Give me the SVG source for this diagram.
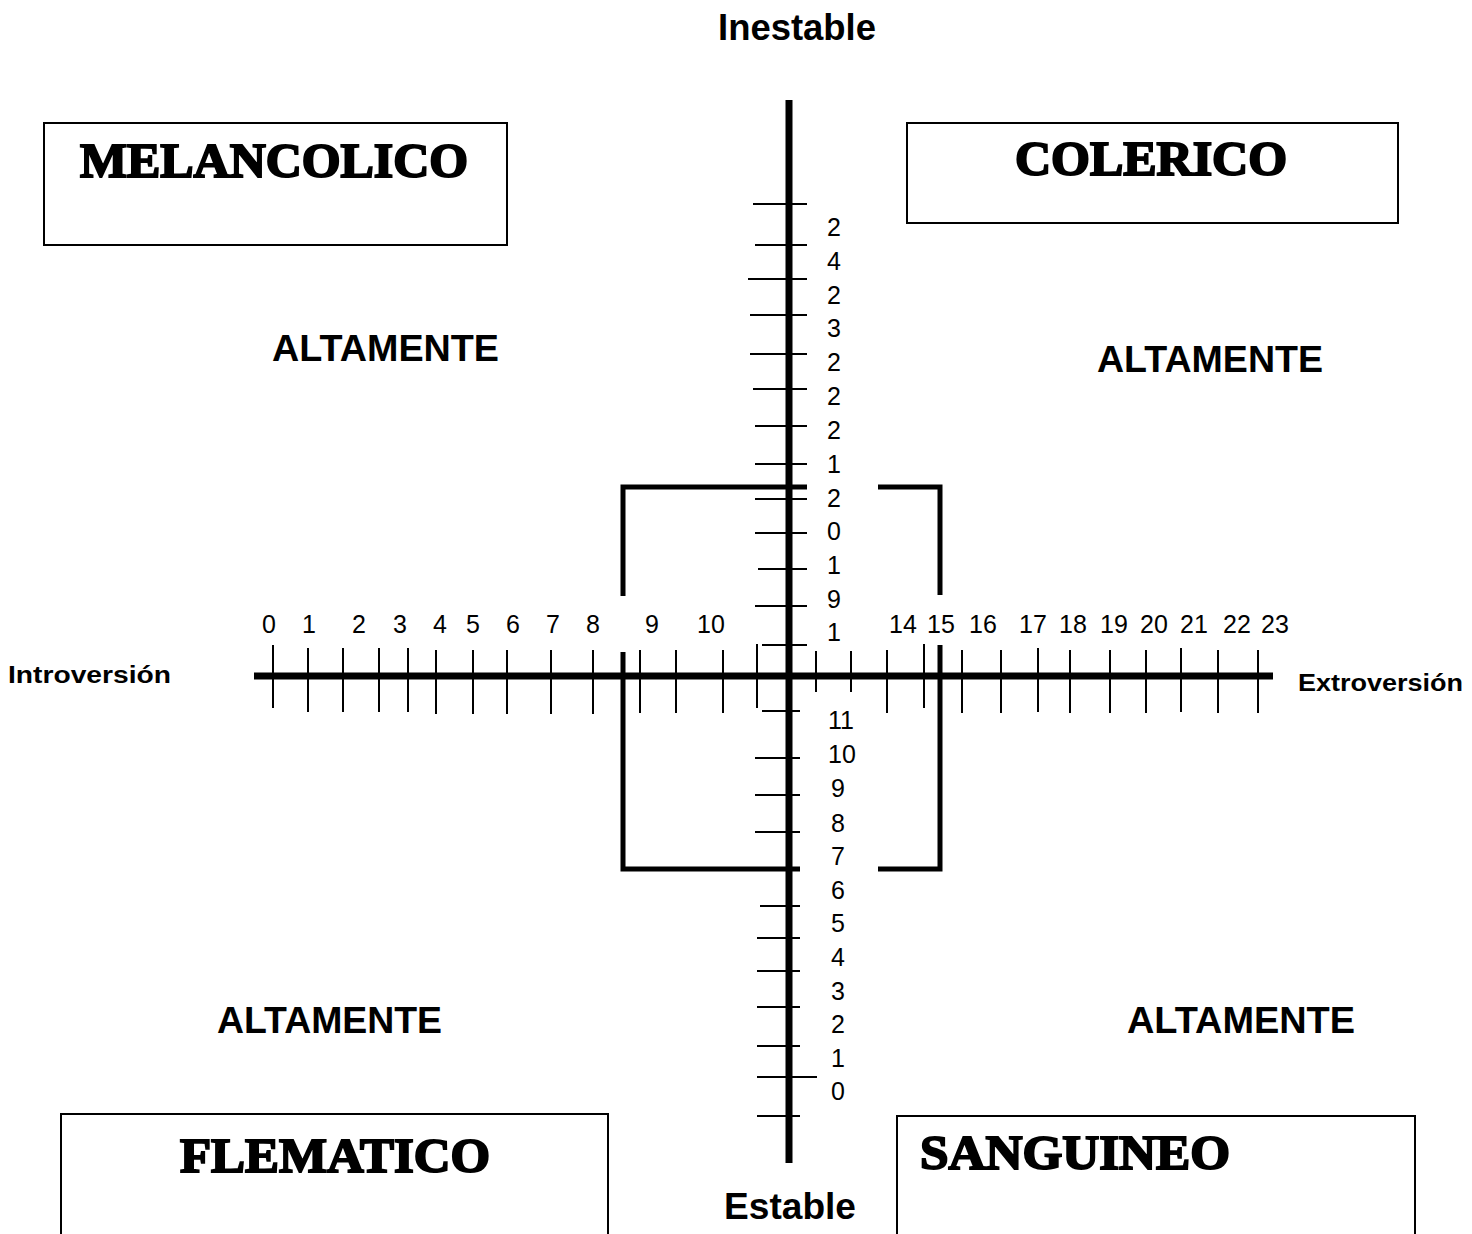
<svg xmlns="http://www.w3.org/2000/svg" width="1472" height="1234" viewBox="0 0 1472 1234">
<style>
.bg{fill:#fff}
.box{fill:#fff;stroke:#000;stroke-width:2}
.title{font-family:"Liberation Serif",serif;font-weight:bold;font-size:48px;fill:#000;stroke:#000;stroke-width:2}
.lbl{font-family:"Liberation Sans",Arial,sans-serif;font-weight:bold;font-size:36px;fill:#000}
.side{font-family:"Liberation Sans",Arial,sans-serif;font-weight:bold;font-size:23px;fill:#000}
.num{font-family:"Liberation Sans",Arial,sans-serif;font-size:25px;fill:#000}
.axis{stroke:#000;stroke-width:7;fill:none}
.tick{stroke:#000;stroke-width:2;fill:none}
.brk{stroke:#000;stroke-width:5;fill:none}
</style>
<rect class="bg" x="0" y="0" width="1472" height="1234"/>

<g id="melancolico">
<rect class="box" x="44" y="123" width="463" height="122"/>
<text class="title" x="80" y="177" textLength="388" lengthAdjust="spacingAndGlyphs">MELANCOLICO</text>
</g>
<g id="colerico">
<rect class="box" x="907" y="123" width="491" height="100"/>
<text class="title" x="1015" y="175" textLength="272" lengthAdjust="spacingAndGlyphs">COLERICO</text>
</g>
<g id="flematico">
<rect class="box" x="61" y="1114" width="547" height="140"/>
<text class="title" x="180" y="1172" textLength="310" lengthAdjust="spacingAndGlyphs">FLEMATICO</text>
</g>
<g id="sanguineo">
<rect class="box" x="897" y="1116" width="518" height="140"/>
<text class="title" x="920" y="1169" textLength="310" lengthAdjust="spacingAndGlyphs">SANGUINEO</text>
</g>

<g id="labels">
<text class="lbl" x="718" y="40" textLength="158" lengthAdjust="spacingAndGlyphs">Inestable</text>
<text class="lbl" x="724" y="1219" textLength="132" lengthAdjust="spacingAndGlyphs">Estable</text>
<text class="lbl" x="272" y="361" textLength="227" lengthAdjust="spacingAndGlyphs">ALTAMENTE</text>
<text class="lbl" x="1097" y="372" textLength="226" lengthAdjust="spacingAndGlyphs">ALTAMENTE</text>
<text class="lbl" x="217" y="1033" textLength="225" lengthAdjust="spacingAndGlyphs">ALTAMENTE</text>
<text class="lbl" x="1127" y="1033" textLength="228" lengthAdjust="spacingAndGlyphs">ALTAMENTE</text>
<text class="side" x="8" y="683" textLength="163" lengthAdjust="spacingAndGlyphs">Introversión</text>
<text class="side" x="1298" y="691" textLength="165" lengthAdjust="spacingAndGlyphs">Extroversión</text>
</g>

<g id="connectors">
<line class="axis" x1="789" y1="100" x2="789" y2="1163"/>
<line class="axis" x1="254" y1="676" x2="1273" y2="676"/>
<g id="vticks">
<line class="tick" x1="753" y1="204" x2="807" y2="204"/>
<line class="tick" x1="755" y1="245" x2="807" y2="245"/>
<line class="tick" x1="748" y1="279" x2="807" y2="279"/>
<line class="tick" x1="750" y1="315" x2="807" y2="315"/>
<line class="tick" x1="750" y1="354" x2="807" y2="354"/>
<line class="tick" x1="753" y1="389" x2="807" y2="389"/>
<line class="tick" x1="755" y1="426" x2="807" y2="426"/>
<line class="tick" x1="755" y1="464" x2="807" y2="464"/>
<line class="tick" x1="755" y1="499" x2="807" y2="499"/>
<line class="tick" x1="755" y1="533" x2="807" y2="533"/>
<line class="tick" x1="758" y1="569" x2="807" y2="569"/>
<line class="tick" x1="755" y1="606" x2="807" y2="606"/>
<line class="tick" x1="762" y1="645" x2="807" y2="645"/>
<line class="tick" x1="762" y1="711" x2="800" y2="711"/>
<line class="tick" x1="755" y1="758" x2="800" y2="758"/>
<line class="tick" x1="755" y1="795" x2="800" y2="795"/>
<line class="tick" x1="755" y1="832" x2="800" y2="832"/>
<line class="tick" x1="760" y1="906" x2="800" y2="906"/>
<line class="tick" x1="757" y1="938" x2="800" y2="938"/>
<line class="tick" x1="757" y1="971" x2="800" y2="971"/>
<line class="tick" x1="757" y1="1007" x2="800" y2="1007"/>
<line class="tick" x1="757" y1="1046" x2="800" y2="1046"/>
<line class="tick" x1="757" y1="1077" x2="817" y2="1077"/>
<line class="tick" x1="757" y1="1116" x2="800" y2="1116"/>
</g>
<g id="hticks">
<line class="tick" x1="273" y1="645" x2="273" y2="708"/>
<line class="tick" x1="308" y1="648" x2="308" y2="712"/>
<line class="tick" x1="343" y1="648" x2="343" y2="712"/>
<line class="tick" x1="379" y1="648" x2="379" y2="712"/>
<line class="tick" x1="408" y1="648" x2="408" y2="712"/>
<line class="tick" x1="436" y1="650" x2="436" y2="714"/>
<line class="tick" x1="473" y1="650" x2="473" y2="714"/>
<line class="tick" x1="507" y1="650" x2="507" y2="714"/>
<line class="tick" x1="551" y1="650" x2="551" y2="714"/>
<line class="tick" x1="593" y1="650" x2="593" y2="714"/>
<line class="tick" x1="640" y1="650" x2="640" y2="713"/>
<line class="tick" x1="676" y1="650" x2="676" y2="713"/>
<line class="tick" x1="723" y1="650" x2="723" y2="713"/>
<line class="tick" x1="757" y1="644" x2="757" y2="708"/>
<line class="tick" x1="816" y1="651" x2="816" y2="692"/>
<line class="tick" x1="851" y1="651" x2="851" y2="692"/>
<line class="tick" x1="887" y1="650" x2="887" y2="713"/>
<line class="tick" x1="924" y1="644" x2="924" y2="708"/>
<line class="tick" x1="962" y1="650" x2="962" y2="713"/>
<line class="tick" x1="1001" y1="650" x2="1001" y2="713"/>
<line class="tick" x1="1038" y1="648" x2="1038" y2="712"/>
<line class="tick" x1="1070" y1="650" x2="1070" y2="713"/>
<line class="tick" x1="1110" y1="650" x2="1110" y2="713"/>
<line class="tick" x1="1146" y1="650" x2="1146" y2="713"/>
<line class="tick" x1="1181" y1="648" x2="1181" y2="712"/>
<line class="tick" x1="1218" y1="650" x2="1218" y2="713"/>
<line class="tick" x1="1258" y1="650" x2="1258" y2="713"/>
</g>
<g id="bracket">
<polyline class="brk" points="623,596 623,487 807,487"/>
<polyline class="brk" points="878,487 940,487 940,595"/>
<polyline class="brk" points="623,652 623,869 800,869"/>
<polyline class="brk" points="940,645 940,869 878,869"/>
</g>
</g>

<g id="vnums">
<text class="num" x="827" y="236">2</text>
<text class="num" x="827" y="270">4</text>
<text class="num" x="827" y="304">2</text>
<text class="num" x="827" y="337">3</text>
<text class="num" x="827" y="371">2</text>
<text class="num" x="827" y="405">2</text>
<text class="num" x="827" y="439">2</text>
<text class="num" x="827" y="473">1</text>
<text class="num" x="827" y="507">2</text>
<text class="num" x="827" y="540">0</text>
<text class="num" x="827" y="574">1</text>
<text class="num" x="827" y="608">9</text>
<text class="num" x="827" y="641">1</text>
<text class="num" x="828" y="729">11</text>
<text class="num" x="828" y="763">10</text>
<text class="num" x="831" y="797">9</text>
<text class="num" x="831" y="832">8</text>
<text class="num" x="831" y="865">7</text>
<text class="num" x="831" y="899">6</text>
<text class="num" x="831" y="932">5</text>
<text class="num" x="831" y="966">4</text>
<text class="num" x="831" y="1000">3</text>
<text class="num" x="831" y="1033">2</text>
<text class="num" x="831" y="1067">1</text>
<text class="num" x="831" y="1100">0</text>
</g>
<g id="hnums" text-anchor="middle">
<text class="num" x="269" y="633">0</text>
<text class="num" x="309" y="633">1</text>
<text class="num" x="359" y="633">2</text>
<text class="num" x="400" y="633">3</text>
<text class="num" x="440" y="633">4</text>
<text class="num" x="473" y="633">5</text>
<text class="num" x="513" y="633">6</text>
<text class="num" x="553" y="633">7</text>
<text class="num" x="593" y="633">8</text>
<text class="num" x="652" y="633">9</text>
<text class="num" x="711" y="633">10</text>
<text class="num" x="903" y="633">14</text>
<text class="num" x="941" y="633">15</text>
<text class="num" x="983" y="633">16</text>
<text class="num" x="1033" y="633">17</text>
<text class="num" x="1073" y="633">18</text>
<text class="num" x="1114" y="633">19</text>
<text class="num" x="1154" y="633">20</text>
<text class="num" x="1194" y="633">21</text>
<text class="num" x="1237" y="633">22</text>
<text class="num" x="1275" y="633">23</text>
</g>
</svg>
